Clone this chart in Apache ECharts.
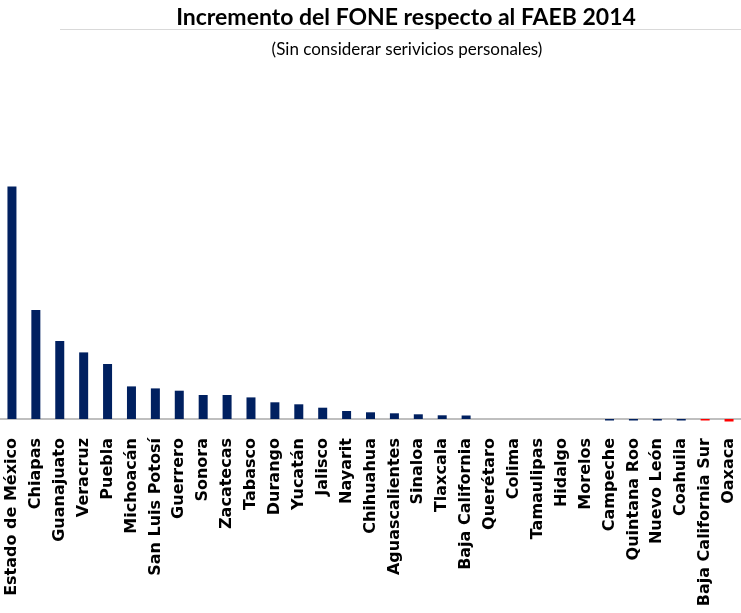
<!DOCTYPE html>
<html>
<head>
<meta charset="utf-8">
<script src="https://cdn.jsdelivr.net/npm/echarts@6/dist/echarts.min.js"></script>
<style>
  html, body { margin: 0; padding: 0; background: #fff; }
  #chart { width: 741px; height: 613px; }
</style>
</head>
<body>
<div id="chart"></div>
<script>
const estados = ['Estado de México', 'Chiapas', 'Guanajuato', 'Veracruz', 'Puebla', 'Michoacán',
  'San Luis Potosí', 'Guerrero', 'Sonora', 'Zacatecas', 'Tabasco', 'Durango', 'Yucatán', 'Jalisco',
  'Nayarit', 'Chihuahua', 'Aguascalientes', 'Sinaloa', 'Tlaxcala', 'Baja California', 'Querétaro',
  'Colima', 'Tamaulipas', 'Hidalgo', 'Morelos', 'Campeche', 'Quintana Roo', 'Nuevo León', 'Coahuila',
  'Baja California Sur', 'Oaxaca'];
// incremento (unidades relativas)
const incremento = [232.6, 109, 78, 66.6, 55, 32.6, 30.6, 28.3, 24, 24, 21.6, 16.7, 14.7, 11.3,
  8, 6.7, 5.7, 4.7, 3.7, 3.5, 0, 0, 0, 0, 0, -1.5, -1.5, -1.5, -1.5, -1.5, -2.5];
const enRojo = ['Baja California Sur', 'Oaxaca'];

const chart = echarts.init(document.getElementById('chart'));
chart.setOption({
  animation: false,
  title: [
    {
      text: 'Incremento del FONE respecto al FAEB 2014',
      left: 401,
      top: 1,
      textAlign: 'center',
      textStyle: { fontFamily: 'Lato', fontWeight: 'bold', fontSize: 23, color: '#000' },
    },
    {
      text: '(Sin considerar serivicios personales)',
      left: 402,
      top: 36,
      textAlign: 'center',
      textStyle: { fontFamily: 'Lato', fontWeight: 'normal', fontSize: 17, color: '#000' },
    },
  ],
  graphic: [
    {
      type: 'line',
      shape: { x1: 60, y1: 29.5, x2: 741, y2: 29.5 },
      style: { stroke: '#d9d9d9', lineWidth: 1 },
    },
  ],
  grid: {
    left: 0,
    width: 744,
    top: 119,
    height: 310,
  },
  xAxis: {
    type: 'category',
    data: estados,
    axisTick: { show: false },
    axisLine: { show: true, onZero: true, lineStyle: { color: '#bfbfbf', width: 2 } },
    axisLabel: {
      interval: 0,
      rotate: 90,
      margin: 9,
      color: '#000',
      fontFamily: 'DejaVu Sans',
      fontWeight: 'bold',
      fontSize: 16,
    },
  },
  yAxis: {
    type: 'value',
    min: -10,
    max: 300,
    show: false,
    splitLine: { show: false },
  },
  series: [
    {
      type: 'bar',
      barWidth: 9,
      data: incremento.map((v, i) => ({
        value: v,
        itemStyle: { color: enRojo.includes(estados[i]) ? '#ff0000' : '#002060' },
      })),
    },
  ],
});
</script>
</body>
</html>
